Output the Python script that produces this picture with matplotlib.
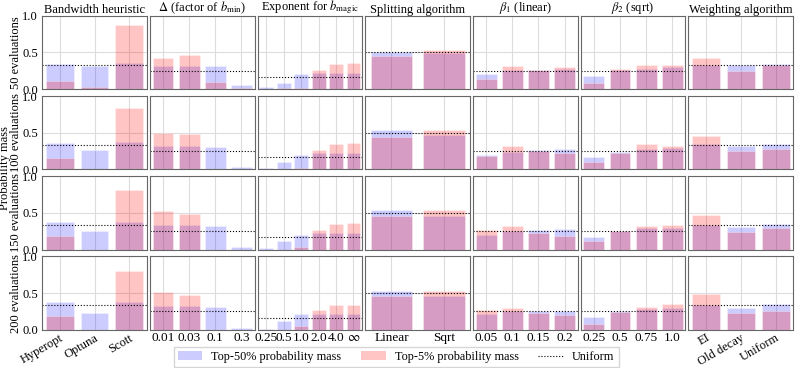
import matplotlib
matplotlib.use("Agg")
import matplotlib.pyplot as plt
import numpy as np
from matplotlib.patches import Patch
from matplotlib.lines import Line2D

plt.rcParams['font.family'] = ['Liberation Serif', 'DejaVu Serif']
plt.rcParams['mathtext.fontset'] = 'stix'
plt.rcParams['font.size'] = 9

row_labels = ["50 evaluations", "100 evaluations", "150 evaluations", "200 evaluations"]

titles = ["Bandwidth heuristic", r"$\Delta$ (factor of $b_{\min}$)", r"Exponent for $b_{\mathrm{magic}}$",
          "Splitting algorithm", r"$\beta_1$ (linear)", r"$\beta_2$ (sqrt)", "Weighting algorithm"]

bw_cats = ["Hyperopt", "Optuna", "Scott"]
bw_top50 = [[0.34, 0.315, 0.36], [0.356, 0.27, 0.37], [0.37, 0.25, 0.38], [0.376, 0.235, 0.376]]
bw_top5 = [[0.11, 0.03, 0.87], [0.15, 0.0, 0.84], [0.19, 0.0, 0.81], [0.19, 0.0, 0.80]]

delta_cats = ["0.01", "0.03", "0.1", "0.3"]
delta_top50 = [[0.32, 0.32, 0.31, 0.06], [0.32, 0.32, 0.31, 0.035], [0.33, 0.33, 0.32, 0.035], [0.32, 0.32, 0.31, 0.03]]
delta_top5 = [[0.43, 0.46, 0.09, 0.02], [0.50, 0.48, 0.0, 0.0], [0.52, 0.48, 0.0, 0.0], [0.51, 0.47, 0.0, 0.0]]

exp_cats = ["0.25", "0.5", "1.0", "2.0", "4.0", r"$\infty$"]
exp_top50 = [[0.027, 0.08, 0.21, 0.225, 0.225, 0.225], [0.02, 0.10, 0.19, 0.22, 0.22, 0.22],
             [0.02, 0.12, 0.20, 0.23, 0.23, 0.23], [0.013, 0.12, 0.21, 0.22, 0.22, 0.22]]
exp_top5 = [[0.0, 0.01, 0.01, 0.265, 0.345, 0.36], [0.0, 0.0, 0.013, 0.26, 0.34, 0.36],
            [0.0, 0.0, 0.04, 0.26, 0.35, 0.36], [0.0, 0.0, 0.045, 0.27, 0.34, 0.34]]

split_cats = ["Linear", "Sqrt"]
split_top50 = [[0.50, 0.49], [0.53, 0.465], [0.535, 0.455], [0.535, 0.455]]
split_top5 = [[0.456, 0.53], [0.445, 0.54], [0.455, 0.535], [0.455, 0.535]]

b1_cats = ["0.05", "0.1", "0.15", "0.2"]
b1_top50 = [[0.20, 0.26, 0.26, 0.28], [0.19, 0.24, 0.265, 0.275], [0.20, 0.25, 0.265, 0.28], [0.21, 0.26, 0.255, 0.26]]
b1_top5 = [[0.14, 0.32, 0.255, 0.30], [0.185, 0.32, 0.245, 0.225], [0.265, 0.32, 0.23, 0.19], [0.275, 0.29, 0.225, 0.20]]

b2_cats = ["0.25", "0.5", "0.75", "1.0"]
b2_top50 = [[0.18, 0.26, 0.27, 0.295], [0.17, 0.235, 0.28, 0.29], [0.175, 0.25, 0.30, 0.30], [0.18, 0.255, 0.285, 0.29]]
b2_top5 = [[0.08, 0.28, 0.33, 0.335], [0.10, 0.22, 0.34, 0.32], [0.11, 0.25, 0.32, 0.335], [0.08, 0.245, 0.315, 0.345]]

w_cats = ["EI", "Old decay", "Uniform"]
w_top50 = [[0.33, 0.33, 0.345], [0.34, 0.315, 0.34], [0.34, 0.305, 0.355], [0.34, 0.30, 0.35]]
w_top5 = [[0.43, 0.245, 0.33], [0.45, 0.255, 0.28], [0.475, 0.24, 0.29], [0.49, 0.235, 0.26]]

columns = [
    (bw_cats, bw_top50, bw_top5, 30),
    (delta_cats, delta_top50, delta_top5, 0),
    (exp_cats, exp_top50, exp_top5, 0),
    (split_cats, split_top50, split_top5, 0),
    (b1_cats, b1_top50, b1_top5, 0),
    (b2_cats, b2_top50, b2_top5, 0),
    (w_cats, w_top50, w_top5, 30),
]

blue = (0.0, 0.0, 1.0, 0.2)
red = (1.0, 0.0, 0.0, 0.23)

fig, axes = plt.subplots(4, 7, figsize=(7.97, 3.68), dpi=100, sharey=True)
fig.subplots_adjust(left=0.053, right=0.995, top=0.957, bottom=0.104, hspace=0.095, wspace=0.03)

for c, (cats, t50, t5, rot) in enumerate(columns):
    n = len(cats)
    x = np.arange(n)
    for r in range(4):
        ax = axes[r, c]
        ax.set_axisbelow(True)
        ax.grid(True, color='#dcdcdc', lw=0.8)
        ax.bar(x, t50[r], width=0.8, color=blue, edgecolor=(1, 1, 1, 0.4), lw=0.5)
        ax.bar(x, t5[r], width=0.8, color=red, edgecolor=(1, 1, 1, 0.4), lw=0.5)
        ax.axhline(1.0 / n, color='black', ls=':', lw=0.8)
        ax.set_xlim(-0.5, n - 0.5)
        ax.set_ylim(0, 1.0)
        ax.set_yticks([0.0, 0.5, 1.0])
        ax.set_xticks(x)
        ax.tick_params(axis='x', length=0, pad=1.5, labelsize=9.5)
        ax.tick_params(axis='y', length=0, pad=3, labelsize=9)
        for s in ax.spines.values():
            s.set_color('#666666')
            s.set_linewidth(0.8)
        if r == 3:
            if rot:
                ax.set_xticklabels(cats, rotation=rot, ha='right', rotation_mode='anchor', fontsize=9)
            else:
                ax.set_xticklabels(cats)
        else:
            ax.set_xticklabels([])
        if r == 0:
            ax.set_title(titles[c], fontsize=9, pad=0.5)
        if c == 0:
            ax.set_ylabel(row_labels[r], fontsize=9)
            ax.yaxis.set_label_coords(-0.19, 0.5)

fig.text(0.0065, 0.543, "Probability mass", rotation=90, va='center', ha='center', fontsize=9)

handles = [Patch(facecolor=blue, label="Top-50% probability mass"),
           Patch(facecolor=red, label="Top-5% probability mass"),
           Line2D([0], [0], color='black', ls=':', lw=0.8, label="Uniform")]
fig.legend(handles=handles, loc='upper center', bbox_to_anchor=(0.497, 0.075), ncol=3,
           fontsize=8.8, frameon=True, edgecolor='#cccccc', fancybox=False,
           columnspacing=1.6, handlelength=2.0, handletextpad=0.75, borderpad=0.35)

fig.savefig("out.png", dpi=100)
